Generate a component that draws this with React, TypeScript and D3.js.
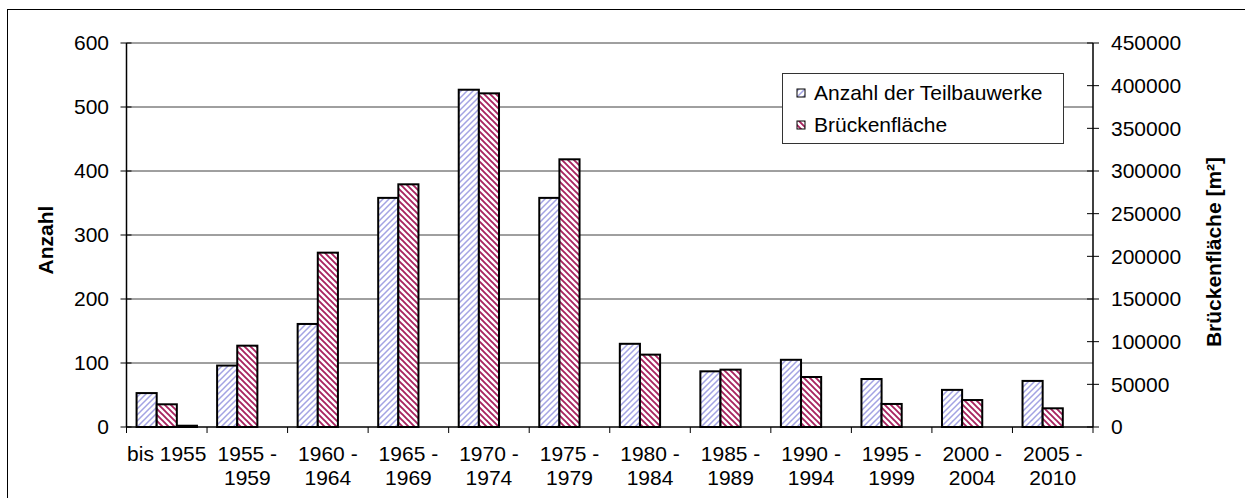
import React from "react";
import * as d3 from "d3";

const categoryLines: string[][] = [
  ["bis 1955"],
  ["1955 -", "1959"],
  ["1960 -", "1964"],
  ["1965 -", "1969"],
  ["1970 -", "1974"],
  ["1975 -", "1979"],
  ["1980 -", "1984"],
  ["1985 -", "1989"],
  ["1990 -", "1994"],
  ["1995 -", "1999"],
  ["2000 -", "2004"],
  ["2005 -", "2010"],
];
const categories = categoryLines.map((l) => l.join(" "));

const anzahl = [53, 96, 161, 358, 527, 358, 130, 87, 105, 75, 58, 72];
const flaeche = [26600, 95300, 204300, 284400, 391000, 313700, 84800, 67200, 58600, 27000, 31600, 21900];
const sonstige = [1500, 0, 0, 0, 0, 0, 0, 0, 0, 0, 0, 0];

const leftTicks = [0, 100, 200, 300, 400, 500, 600];
const rightTicks = [0, 50000, 100000, 150000, 200000, 250000, 300000, 350000, 400000, 450000];

const seriesKeys = ["anzahl", "flaeche", "sonstige"];
const legendItems = [
  { key: "anzahl", label: "Anzahl der Teilbauwerke" },
  { key: "flaeche", label: "Brückenfläche" },
];

const FONT = "'Liberation Sans', Arial, sans-serif";
const FS = 21;

export default function App() {
  const W = 1245;
  const H = 498;
  const plotL = 126.5;
  const plotR = 1093;
  const plotT = 43;
  const plotB = 427;

  const x = d3.scaleBand<string>().domain(categories).range([plotL, plotR]).padding(0);
  const xi = d3
    .scaleBand<string>()
    .domain(seriesKeys)
    .range([0, x.bandwidth()])
    .paddingInner(0)
    .paddingOuter(0.5);
  const yL = d3.scaleLinear().domain([0, 600]).range([plotB, plotT]);
  const yR = d3.scaleLinear().domain([0, 450000]).range([plotB, plotT]);

  const bounds = d3.range(categories.length + 1).map((i) => plotL + i * x.step());

  const bars: { key: string; cat: string; y: number }[] = [];
  categories.forEach((c, i) => {
    bars.push({ key: "anzahl", cat: c, y: yL(anzahl[i]) });
    bars.push({ key: "flaeche", cat: c, y: yR(flaeche[i]) });
    if (sonstige[i] > 0) bars.push({ key: "sonstige", cat: c, y: yR(sonstige[i]) });
  });

  const fillFor = (k: string) =>
    k === "anzahl" ? "url(#patA)" : k === "flaeche" ? "url(#patF)" : "#000";

  return (
    <svg
      width={W}
      height={H}
      style={{ position: "absolute", left: 0, top: 0, display: "block", background: "#fff" }}
      fontFamily={FONT}
    >
      <defs>
        <pattern id="patA" width={6} height={6} patternUnits="userSpaceOnUse">
          <rect width={6} height={6} fill="#fff" />
          <path d="M-1,1 L1,-1 M0,6 L6,0 M5,7 L7,5" stroke="#a3a3e3" strokeWidth={1.5} />
        </pattern>
        <pattern id="patF" width={6} height={6} patternUnits="userSpaceOnUse">
          <rect width={6} height={6} fill="#fff" />
          <path d="M-1,5 L1,7 M0,0 L6,6 M5,-1 L7,1" stroke="#a8245f" strokeWidth={1.9} />
        </pattern>
      </defs>

      {/* outer border */}
      <rect x={7.5} y={9.5} width={1300} height={600} fill="none" stroke="#000" strokeWidth={1} />

      {/* gridlines */}
      {leftTicks.filter((t) => t > 0).map((t) => (
        <line key={"g" + t} x1={plotL} x2={plotR} y1={yL(t)} y2={yL(t)} stroke="#404040" strokeWidth={1} />
      ))}

      {/* bars */}
      {bars.map((b, i) => (
        <rect
          key={i}
          x={(x(b.cat) as number) + (xi(b.key) as number)}
          y={b.y}
          width={xi.bandwidth()}
          height={Math.max(plotB - b.y, 0)}
          fill={fillFor(b.key)}
          stroke="#000"
          strokeWidth={2}
        />
      ))}

      {/* axes */}
      <line x1={plotL} x2={plotL} y1={plotT} y2={plotB} stroke="#000" strokeWidth={1.5} />
      <line x1={plotR} x2={plotR} y1={plotT} y2={plotB} stroke="#000" strokeWidth={1.5} />
      <line x1={plotL} x2={plotR} y1={plotB} y2={plotB} stroke="#000" strokeWidth={1.5} />

      {leftTicks.map((t) => (
        <g key={"lt" + t}>
          <line x1={plotL - 6} x2={plotL + 5} y1={yL(t)} y2={yL(t)} stroke="#000" strokeWidth={1} />
          <text x={109} y={yL(t)} dy="0.35em" textAnchor="end" fontSize={FS} fill="#000">
            {t}
          </text>
        </g>
      ))}
      {rightTicks.map((t) => (
        <g key={"rt" + t}>
          <line x1={plotR - 6} x2={plotR + 6} y1={yR(t)} y2={yR(t)} stroke="#000" strokeWidth={1} />
          <text x={1111} y={yR(t)} dy="0.35em" textAnchor="start" fontSize={FS} fill="#000">
            {t}
          </text>
        </g>
      ))}
      {bounds.map((bx, i) => (
        <line key={"xt" + i} x1={bx} x2={bx} y1={plotB} y2={plotB + 6} stroke="#000" strokeWidth={1} />
      ))}
      {categoryLines.map((lines, i) => (
        <text
          key={"cl" + i}
          x={(x(categories[i]) as number) + x.bandwidth() / 2}
          y={461}
          textAnchor="middle"
          fontSize={FS}
          fill="#000"
        >
          {lines.map((ln, j) => (
            <tspan key={j} x={(x(categories[i]) as number) + x.bandwidth() / 2} y={461 + j * 24}>
              {ln}
            </tspan>
          ))}
        </text>
      ))}

      {/* axis titles */}
      <text transform="translate(53,240) rotate(-90)" textAnchor="middle" fontSize={FS} fontWeight="bold" fill="#000">
        Anzahl
      </text>
      <text transform="translate(1221,252) rotate(-90)" textAnchor="middle" fontSize={FS} fontWeight="bold" fill="#000">
        Brückenfläche [m²]
      </text>

      {/* legend */}
      <rect x={782.5} y={73.5} width={281} height={70} fill="#fff" stroke="#333" strokeWidth={1} />
      {legendItems.map((it, i) => (
        <g key={it.key}>
          <rect x={797} y={89 + i * 32} width={8} height={8} fill={fillFor(it.key)} stroke="#000" strokeWidth={1} />
          <text x={814} y={100 + i * 32} fontSize={FS} fill="#000">
            {it.label}
          </text>
        </g>
      ))}
    </svg>
  );
}
